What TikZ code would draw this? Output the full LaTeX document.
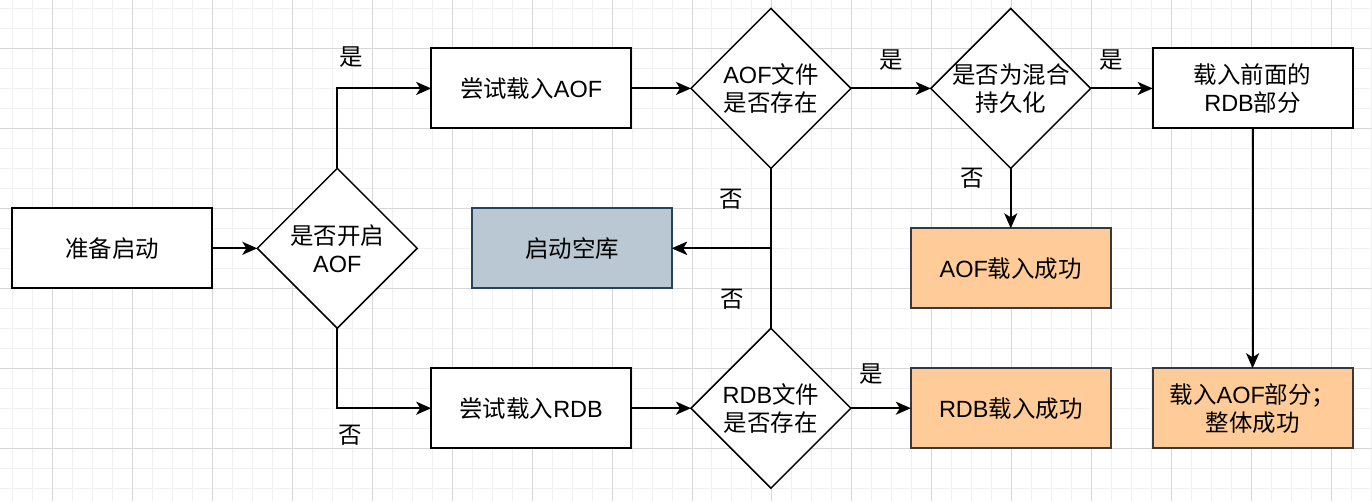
\documentclass[tikz,border=0pt]{standalone}
\usepackage{fontspec}
\setmainfont{Liberation Sans}
\newfontfamily\cjk{Noto Sans CJK SC}
\usetikzlibrary{shapes.geometric, arrows.meta, positioning}
\usepackage{xcolor}

\definecolor{okfill}{HTML}{FFCC99}
\definecolor{okline}{HTML}{36393D}
\definecolor{emptyfill}{HTML}{BAC8D3}
\definecolor{emptyline}{HTML}{23445D}
\definecolor{gridminor}{HTML}{F0F0F0}
\definecolor{gridmajor}{HTML}{D6D6D6}

\begin{document}
\begin{tikzpicture}[x=1pt, y=-1pt, node distance=60pt and 60pt, font=\fontsize{23.5}{28}\selectfont]

  % styles
  \tikzstyle{process} = [rectangle, minimum width=200pt, minimum height=80pt, outer sep=0pt, text centered, align=center, draw=black, line width=2pt, fill=white]
  \tikzstyle{decision} = [diamond, minimum width=160pt, minimum height=160pt, inner sep=-10pt, outer sep=0pt, text centered, align=center, draw=black, line width=1.5pt, fill=white]
  \tikzstyle{okbox} = [process, fill=okfill, draw=okline]
  \tikzstyle{emptybox} = [process, fill=emptyfill, draw=emptyline]
  \tikzstyle{arrow} = [line width=2pt, -{Stealth[length=15pt, width=13pt, inset=4pt]}]

  % grid paper
  \fill[white] (0,0) rectangle (1372,501);
  \foreach \gx in {12,32,...,1372} \draw[gridminor, line width=1pt] (\gx,0) -- (\gx,501);
  \foreach \gy in {8,28,...,501} \draw[gridminor, line width=1pt] (0,\gy) -- (1372,\gy);
  \foreach \gx in {52,132,...,1372} \draw[gridmajor, line width=1pt] (\gx,0) -- (\gx,501);
  \foreach \gy in {48,128,...,501} \draw[gridmajor, line width=1pt] (0,\gy) -- (1372,\gy);
  \useasboundingbox (0,0) rectangle (1372,501);

  % start and first check
  \node (start) [process] at (112,248) {{\cjk 准备启动}};
  \node (dec1) [decision, right=45pt of start] {{\cjk 是否开启}\\AOF};

  % AOF branch
  \node (tryAOF) [process] at (531,88) {{\cjk 尝试载入}AOF};
  \node (aofExists) [decision, right=of tryAOF] {AOF{\cjk 文件}\\{\cjk 是否存在}};
  \node (mixed) [decision, right=80pt of aofExists] {{\cjk 是否为混合}\\{\cjk 持久化}};
  \node (loadRDB) [process, right=62pt of mixed] {{\cjk 载入前面的}\\RDB{\cjk 部分}};
  \node (aofOK) [okbox, below=of mixed] {AOF{\cjk 载入成功}};
  \node (loadAOF) [okbox, below=240pt of loadRDB] {{\cjk 载入}AOF{\cjk 部分；}\\{\cjk 整体成功}};

  % RDB branch
  \node (tryRDB) [process, below=240pt of tryAOF] {{\cjk 尝试载入}RDB};
  \node (rdbExists) [decision, right=of tryRDB] {RDB{\cjk 文件}\\{\cjk 是否存在}};
  \node (rdbOK) [okbox, right=of rdbExists] {RDB{\cjk 载入成功}};

  % empty start
  \node (empty) [emptybox] at (572,248) {{\cjk 启动空库}};

  % arrows
  \draw [arrow] (start) -- (dec1);

  \draw [arrow] (dec1.north) |- (tryAOF) node[pos=0.5, xshift=14pt, yshift=31pt] {\cjk 是};
  \draw [arrow] (tryAOF) -- (aofExists);
  \draw [arrow] (aofExists) -- (mixed) node[midway, yshift=28pt] {\cjk 是};
  \draw [arrow] (mixed) -- (loadRDB) node[midway, xshift=-10pt, yshift=28pt] {\cjk 是};
  \draw [arrow] (mixed) -- (aofOK) node[at start, xshift=-39pt, yshift=-10pt] {\cjk 否};
  \draw [arrow] (loadRDB) -- (loadAOF);
  \draw [arrow] (aofExists.south) |- (empty) node[at start, xshift=-40pt, yshift=-31pt] {\cjk 否};

  \draw [arrow] (dec1.south) |- (tryRDB) node[pos=0.5, xshift=13pt, yshift=-27pt] {\cjk 否};
  \draw [arrow] (tryRDB) -- (rdbExists);
  \draw [arrow] (rdbExists) -- (rdbOK) node[midway, xshift=-10pt, yshift=34pt] {\cjk 是};
  \draw [arrow] (rdbExists.north) |- (empty) node[at start, xshift=-39pt, yshift=29pt] {\cjk 否};

\end{tikzpicture}
\end{document}
